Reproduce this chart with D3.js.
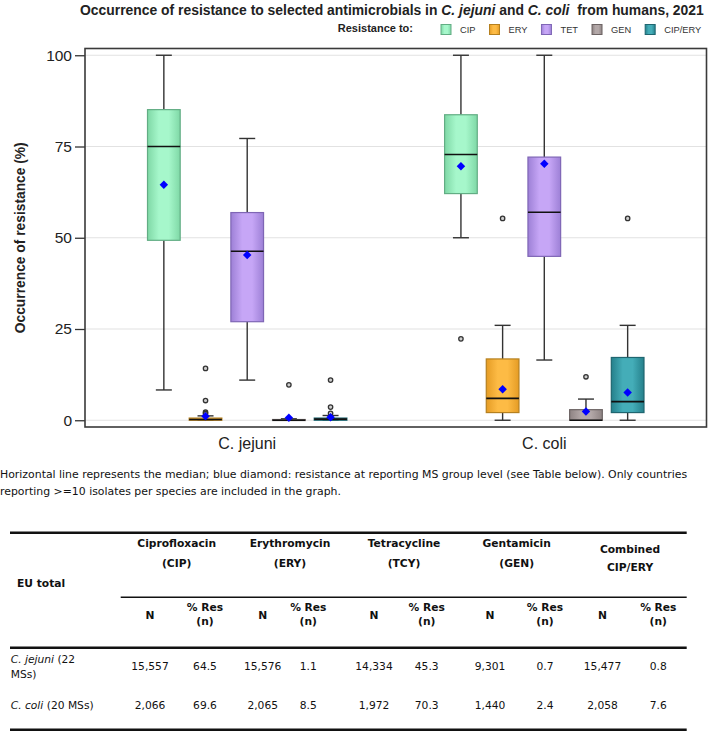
<!DOCTYPE html>
<html>
<head>
<meta charset="utf-8">
<script src="https://cdn.jsdelivr.net/npm/d3@7"></script>
<style>
  html, body { margin: 0; padding: 0; background: #fff; }
  svg { display: block; }
</style>
</head>
<body>
<svg id="chart" width="709" height="731"></svg>
<script>
// ---------------- DATA ----------------
const species = ["C. jejuni", "C. coli"];
const antimicrobials = ["CIP", "ERY", "TET", "GEN", "CIP/ERY"];
const yTicks = [0, 25, 50, 75, 100];

// C. jejuni box statistics (per antimicrobial, same order)
const jejuniMin    = [8.3, 0,   11.0, 0,   0];
const jejuniQ1     = [49.3, 0,  27.0, 0,   0];
const jejuniMedian = [75.0, 0.2, 46.3, 0,  0.3];
const jejuniQ3     = [85.1, 0.6, 56.9, 0.2, 0.6];
const jejuniMax    = [100, 1.2, 77.2, 0.4, 1.3];
const jejuniMean   = [64.5, 1.1, 45.3, 0.7, 0.8];
const jejuniOutliers = [[], [14.2, 5.4, 2.2, 1.8], [], [9.7], [11.0, 3.6, 1.9]];

// C. coli box statistics
const coliMin    = [50.0, 0,    16.5, 0,   0];
const coliQ1     = [62.1, 2.1,  44.9, 0,   2.1];
const coliMedian = [72.8, 6.0,  57.0, 0,   5.1];
const coliQ3     = [83.7, 16.8, 72.1, 2.9, 17.2];
const coliMax    = [100, 26.0, 100, 5.8, 26.0];
const coliMean   = [69.6, 8.5, 70.3, 2.4, 7.6];
const coliOutliers = [[22.3], [55.3], [], [11.9], [55.3]];

// Table
const tableDrugs = ["Ciprofloxacin", "Erythromycin", "Tetracycline", "Gentamicin", "Combined"];
const tableCodes = ["(CIP)", "(ERY)", "(TCY)", "(GEN)", "CIP/ERY"];
const jejuniN   = ["15,557", "15,576", "14,334", "9,301", "15,477"];
const jejuniRes = ["64.5", "1.1", "45.3", "0.7", "0.8"];
const coliN     = ["2,066", "2,065", "1,972", "1,440", "2,058"];
const coliRes   = ["69.6", "8.5", "70.3", "2.4", "7.6"];

// Colours
const fillLight = ["#a6f7cb", "#fdbb45", "#c6a6f6", "#b3a8a8", "#44adb8"];
const fillDark  = ["#7fd8a6", "#e59c25", "#9d80d6", "#8e8383", "#25808b"];
const strokeCol = ["#62ad84", "#b5801f", "#7f66b5", "#6d6464", "#1f6670"];

// ---------------- SETUP ----------------
const svg = d3.select("#chart");
const plotL = 85, plotR = 706.5, plotT = 48.5, plotB = 427;
const chartFont = "'Liberation Sans', Arial, sans-serif";
const tableFont = "'DejaVu Sans', Verdana, sans-serif";

const defs = svg.append("defs");
antimicrobials.forEach((a, i) => {
  const g = defs.append("linearGradient").attr("id", "grad" + i)
    .attr("x1", "0%").attr("x2", "100%").attr("y1", "0%").attr("y2", "0%");
  g.append("stop").attr("offset", "0%").attr("stop-color", fillDark[i]);
  g.append("stop").attr("offset", "35%").attr("stop-color", fillLight[i]);
  g.append("stop").attr("offset", "65%").attr("stop-color", fillLight[i]);
  g.append("stop").attr("offset", "100%").attr("stop-color", fillDark[i]);
});

const y = d3.scaleLinear().domain([-1.85, 101.85]).range([plotB, plotT]);
const x0 = d3.scaleBand().domain(species).range([plotL, plotR]).paddingInner(0).paddingOuter(0.046);
const x1 = d3.scaleBand().domain(antimicrobials).range([-104.2, 104.2]).paddingInner(0.216).paddingOuter(0.108);

// gridlines
svg.append("g").selectAll("line").data(yTicks).join("line")
  .attr("x1", plotL).attr("x2", plotR)
  .attr("y1", d => y(d)).attr("y2", d => y(d))
  .attr("stroke", "#e2e2e2").attr("stroke-width", 1.2);

// y axis
const yAxis = svg.append("g").attr("transform", `translate(${plotL},0)`)
  .call(d3.axisLeft(y).tickValues(yTicks).tickSize(10).tickPadding(3));
yAxis.select(".domain").remove();
yAxis.selectAll(".tick line").attr("stroke", "#333").attr("stroke-width", 1.3);
yAxis.selectAll(".tick text").attr("font-family", chartFont).attr("font-size", 15.5).attr("fill", "#222");

// x axis labels
const xAxis = svg.append("g").attr("transform", `translate(0,${plotB})`)
  .call(d3.axisBottom(x0).tickSize(0).tickPadding(11));
xAxis.select(".domain").remove();
xAxis.selectAll(".tick text").attr("font-family", chartFont).attr("font-size", 16).attr("fill", "#222");

// y label
svg.append("text")
  .attr("transform", `translate(25,${(y(0) + y(100)) / 2}) rotate(-90)`)
  .attr("text-anchor", "middle")
  .attr("font-family", chartFont).attr("font-weight", "bold").attr("font-size", 13.8).attr("fill", "#222")
  .text("Occurrence of resistance (%)");

// build records
const stats = {
  "C. jejuni": { min: jejuniMin, q1: jejuniQ1, med: jejuniMedian, q3: jejuniQ3, max: jejuniMax, mean: jejuniMean, out: jejuniOutliers },
  "C. coli":   { min: coliMin, q1: coliQ1, med: coliMedian, q3: coliQ3, max: coliMax, mean: coliMean, out: coliOutliers }
};
const records = [];
species.forEach(s => antimicrobials.forEach((a, i) => {
  const st = stats[s];
  records.push({ s, a, i, min: st.min[i], q1: st.q1[i], med: st.med[i], q3: st.q3[i], max: st.max[i], mean: st.mean[i], out: st.out[i] });
}));

const bw = x1.bandwidth();
const capW = 16;
const boxes = svg.append("g").selectAll("g").data(records).join("g")
  .attr("transform", d => `translate(${x0(d.s) + x0.bandwidth() / 2 + x1(d.a) + bw / 2},0)`);

// whiskers
boxes.append("line").attr("x1", 0).attr("x2", 0)
  .attr("y1", d => y(d.max)).attr("y2", d => y(d.q3))
  .attr("stroke", "#333").attr("stroke-width", 1.4);
boxes.append("line").attr("x1", 0).attr("x2", 0)
  .attr("y1", d => y(d.q1)).attr("y2", d => y(d.min))
  .attr("stroke", "#333").attr("stroke-width", 1.4);
boxes.append("line").attr("x1", -capW / 2).attr("x2", capW / 2)
  .attr("y1", d => y(d.max)).attr("y2", d => y(d.max))
  .attr("stroke", "#333").attr("stroke-width", 1.4);
boxes.append("line").attr("x1", -capW / 2).attr("x2", capW / 2)
  .attr("y1", d => y(d.min)).attr("y2", d => y(d.min))
  .attr("stroke", "#333").attr("stroke-width", 1.4);

// box
boxes.append("rect")
  .attr("x", -bw / 2).attr("width", bw)
  .attr("y", d => y(d.q3)).attr("height", d => Math.max(1, y(d.q1) - y(d.q3)))
  .attr("fill", d => `url(#grad${d.i})`)
  .attr("stroke", d => strokeCol[d.i]).attr("stroke-width", 1.2);

// median
boxes.append("line").attr("x1", -bw / 2).attr("x2", bw / 2)
  .attr("y1", d => y(d.med)).attr("y2", d => y(d.med))
  .attr("stroke", "#111").attr("stroke-width", 1.6);

// outliers
boxes.selectAll("circle").data(d => d.out).join("circle")
  .attr("cx", 0).attr("cy", v => y(v)).attr("r", 2.2)
  .attr("fill", "#cfcfcf").attr("stroke", "#333").attr("stroke-width", 1.3);

// mean diamond
boxes.append("rect")
  .attr("x", -3).attr("y", -3).attr("width", 6).attr("height", 6)
  .attr("transform", d => `translate(0,${y(d.mean)}) rotate(45)`)
  .attr("fill", "#0000ff");

// frame
svg.append("rect").attr("x", plotL).attr("y", plotT)
  .attr("width", plotR - plotL).attr("height", plotB - plotT)
  .attr("fill", "none").attr("stroke", "#3a3a3a").attr("stroke-width", 1.6);

// title
const title = svg.append("text").attr("x", 80).attr("y", 15)
  .attr("font-family", chartFont).attr("font-weight", "bold").attr("font-size", 13.9).attr("fill", "#222")
  .style("white-space", "pre");
title.append("tspan").text("Occurrence of resistance to selected antimicrobials in ");
title.append("tspan").attr("font-style", "italic").text("C. jejuni");
title.append("tspan").text(" and ");
title.append("tspan").attr("font-style", "italic").text("C. coli");
title.append("tspan").text("  from humans, 2021");

// legend
svg.append("text").attr("x", 413).attr("y", 32).attr("text-anchor", "end")
  .attr("font-family", chartFont).attr("font-weight", "bold").attr("font-size", 11).attr("fill", "#222")
  .text("Resistance to:");
let lx = 441;
antimicrobials.forEach((a, i) => {
  svg.append("rect").attr("x", lx).attr("y", 24.5).attr("width", 10).attr("height", 10)
    .attr("fill", `url(#grad${i})`).attr("stroke", strokeCol[i]).attr("stroke-width", 1);
  const t = svg.append("text").attr("x", lx + 19).attr("y", 32.5)
    .attr("font-family", chartFont).attr("font-size", 9.3).attr("fill", "#333").text(a);
  lx += 19 + t.node().getComputedTextLength() + 14;
});

// caption
const cap = svg.append("g").attr("font-family", tableFont).attr("font-size", 10.9).attr("fill", "#111");
cap.append("text").attr("x", 0).attr("y", 477.5)
  .text("Horizontal line represents the median; blue diamond: resistance at reporting MS group level (see Table below). Only countries");
cap.append("text").attr("x", 0).attr("y", 495)
  .text("reporting >=10 isolates per species are included in the graph.");

// ---------------- TABLE ----------------
const tbl = svg.append("g").attr("font-family", tableFont).attr("fill", "#111");
const tL = 10, tR = 686.7;
const groupCx = [176.7, 290, 404, 516.7, 630];
const nCx = [150, 262.7, 374, 490, 602.5];
const resCx = [205, 308.3, 426.7, 545, 658.3];

tbl.append("line").attr("x1", tL).attr("x2", tR).attr("y1", 532.7).attr("y2", 532.7).attr("stroke", "#111").attr("stroke-width", 2.4);
tbl.append("line").attr("x1", 120.7).attr("x2", tR).attr("y1", 597.3).attr("y2", 597.3).attr("stroke", "#111").attr("stroke-width", 1.5);
tbl.append("line").attr("x1", tL).attr("x2", tR).attr("y1", 647.7).attr("y2", 647.7).attr("stroke", "#111").attr("stroke-width", 2.4);
tbl.append("line").attr("x1", tL).attr("x2", tR).attr("y1", 729.8).attr("y2", 729.8).attr("stroke", "#111").attr("stroke-width", 2.4);

const hb = tbl.append("g").attr("font-weight", "bold").attr("font-size", 10.7).attr("text-anchor", "middle");
tbl.append("text").attr("x", 17).attr("y", 586.5).attr("font-weight", "bold").attr("font-size", 10.7).text("EU total");
tableDrugs.forEach((d, i) => {
  const combined = i === 4;
  hb.append("text").attr("x", groupCx[i]).attr("y", combined ? 553.2 : 546.5).text(d);
  hb.append("text").attr("x", groupCx[i]).attr("y", combined ? 570.6 : 567.2).text(tableCodes[i]);
  hb.append("text").attr("x", nCx[i]).attr("y", 618.8).text("N");
  hb.append("text").attr("x", resCx[i]).attr("y", 611.1).text("% Res");
  hb.append("text").attr("x", resCx[i]).attr("y", 624.9).text("(n)");
});

const body = tbl.append("g").attr("font-size", 10.7);
const r1 = body.append("text").attr("x", 10.7).attr("y", 663.1);
r1.append("tspan").attr("font-style", "italic").text("C. jejuni");
r1.append("tspan").text(" (22");
body.append("text").attr("x", 10.7).attr("y", 678.1).text("MSs)");
const r2 = body.append("text").attr("x", 10.7).attr("y", 708.8);
r2.append("tspan").attr("font-style", "italic").text("C. coli");
r2.append("tspan").text(" (20 MSs)");

const bodyC = body.append("g").attr("text-anchor", "middle");
[[jejuniN, jejuniRes, 669.5], [coliN, coliRes, 708.8]].forEach(([ns, rs, yy]) => {
  ns.forEach((v, i) => bodyC.append("text").attr("x", nCx[i]).attr("y", yy).text(v));
  rs.forEach((v, i) => bodyC.append("text").attr("x", resCx[i]).attr("y", yy).text(v));
});
</script>
</body>
</html>
